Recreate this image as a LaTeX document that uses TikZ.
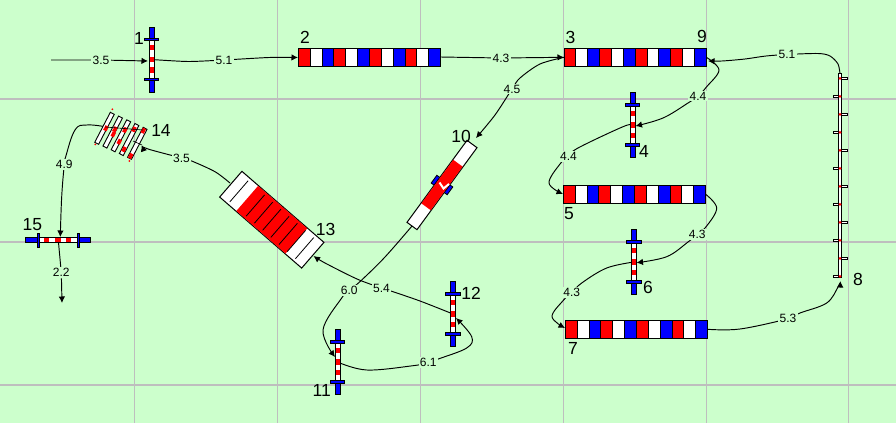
\documentclass[tikz,border=0pt]{standalone}
\usepackage{fontspec}
\setmainfont{Liberation Sans}
\usetikzlibrary{arrows.meta}
\pgfdeclarelayer{back}
\pgfsetlayers{back,main}
\definecolor{bgc}{HTML}{CCFFCC}
\definecolor{gridc}{HTML}{BEBEBE}
\tikzset{
  gridline/.style={gridc,line width=1.2pt},
  conn/.style={black,line width=.95pt,line join=round},
  tip/.style={conn,-{Latex[length=6.5pt,width=6.5pt]}},
  lab/.style={fill=bgc,inner sep=1.2pt,font=\fontsize{12}{12}\selectfont,text depth=0pt},
  num/.style={inner sep=0pt,font=\fontsize{17.5}{17.5}\selectfont},
  part/.style={draw=black,line width=1pt},
  hold/.style={inner sep=0pt,outer sep=0pt}
}
\newcommand{\stripebar}[3]{%
  \node[hold,minimum width=142.4pt,minimum height=18pt] (#1) at (#2,#3) {};
  \begin{scope}[shift={(#1.west)}]
    \foreach \i/\c in {0/red,1/white,2/blue,3/red,4/white,5/blue,6/red,7/white,8/blue,9/red,10/white,11/blue}
      \filldraw[part,fill=\c] ({\i*11.867},-9) rectangle ({(\i+1)*11.867},9);
  \end{scope}}
\newcommand{\signalpost}[4]{%
  \node[hold,minimum width=5pt,minimum height=65pt,rotate=#4] (#1) at (#2,#3) {};
  \begin{scope}[shift={(#2,#3)},rotate=#4]
    \fill[blue] (-2.5,-32.5) rectangle (2.5,32.5);
    \fill[white] (-2.5,-20) rectangle (2.5,20);
    \foreach \a/\b in {-14.5/-9.5,-3/2.5,7.5/13} \fill[red] (-2.5,\a) rectangle (2.5,\b);
    \draw[part] (-2.5,-32.5) rectangle (2.5,32.5);
    \foreach \s in {-20,20} \filldraw[part,fill=blue,line width=.8pt] (-7.3,\s-1.2) rectangle (7.3,\s+1.2);
  \end{scope}}
\begin{document}
\begin{tikzpicture}[x=1pt,y=-1pt]
\useasboundingbox (0,0) rectangle (896,423);
\begin{pgfonlayer}{back}
  \fill[bgc] (0,0) rectangle (896,423);
  \foreach \x in {134.5,277.5,420.5,563.5,706.5,848.5} \draw[gridline] (\x,0) -- (\x,423);
  \foreach \y in {99,242,385} \draw[gridline] (0,\y) -- (896,\y);
\end{pgfonlayer}

% elements
\signalpost{e1}{151.5}{59.5}{0}
\stripebar{e2}{369.5}{57}
\stripebar{e3}{635.2}{57.3}
\signalpost{e4}{632.5}{125}{0}
\stripebar{e5}{634.5}{194.3}
\signalpost{e6}{634}{262}{0}
\stripebar{e7}{636.5}{329.3}
\signalpost{e11}{337.5}{362}{0}
\signalpost{e12}{453}{314}{0}
\signalpost{e15}{58.3}{240.3}{90}
\coordinate (e9) at (e3.east);

% element 8
\node[hold,minimum width=3pt,minimum height=204pt] (e8) at (840,175) {};
\foreach \k in {0,2,4,6,8,10} \filldraw[part,fill=white,line width=.8pt] (840,78.3+18*\k-1.2) rectangle (847.5,78.3+18*\k+1.2);
\foreach \k in {1,3,5,7,9,11} \filldraw[part,fill=white,line width=.8pt] (833,78.3+18*\k-1.2) rectangle (840,78.3+18*\k+1.2);
\filldraw[part,fill=white,line width=1pt] (838.6,73) rectangle (841.4,277);
\foreach \k in {0,...,11} \fill[red] (840,78.3+18*\k) circle (1.5);

% element 10
\node[hold,minimum width=101.6pt,minimum height=12.4pt,rotate=53.8] (e10) at (442,185) {};
\begin{scope}[shift={(442,185)},rotate=53.8]
  \foreach \s in {-1,1} \filldraw[part,fill=blue,line width=.8pt] (-4.8,\s*8-1.9) rectangle (4.8,\s*8+1.9);
  \filldraw[part,fill=white] (-50.8,-6.2) rectangle (50.8,6.2);
  \fill[red] (-27,-5.8) rectangle (27,5.8);
\end{scope}
\draw[white,line width=2pt] (439.5,182.5) -- (443.5,188.5) -- (449,184);

% element 13
\node[hold,minimum width=108.5pt,minimum height=34pt,rotate=-40.9] (e13) at (271.8,219.7) {};
\begin{scope}[shift={(271.8,219.7)},rotate=-40.9]
  \filldraw[part,fill=white] (-54.25,-17) rectangle (54.25,17);
  \fill[red] (-32.5,-16.6) rectangle (32.5,16.6);
  \foreach \t in {-43.4,-21.7,-10.85,0,10.85,21.7,32.55,43.4} \draw[black,line width=.8pt] (\t,-14) -- (\t,14);
\end{scope}

% element 14
\node[hold,minimum width=60pt,minimum height=36pt] (e14) at (120.9,135.8) {};
\foreach \k in {0,...,4}
  \filldraw[part,fill=white,line width=.9pt,shift={(104.5+8.2*\k,128.3+3.75*\k)},rotate=62.5] (-16.9,-2.2) rectangle (16.9,2.2);
\foreach \p in {(106,128.3),(115,129.3),(113.3,134.3),(125,130),(119.3,141.7),(134,129.3),(124,149.3),(143.3,130.7),(130.7,156)}
  \fill[red,shift={\p},rotate=62.5] (-2.6,-1.8) rectangle (2.6,1.8);
\foreach \p in {(112.3,109.3),(95.3,144.3),(129.3,161)} \fill[red] \p circle (1);
\draw[black,line width=.6pt] (105,127) -- (143,130);
\draw[black,line width=.6pt] (142,145) -- (133,141);

% element numbers
\node[num] (n1) at (139,38) {1};
\node[num] (n2) at (305,37) {2};
\node[num] (n3) at (570.5,37) {3};
\node[num] (n4) at (644,151) {4};
\node[num] (n5) at (569,214) {5};
\node[num] (n6) at (648,287) {6};
\node[num] (n7) at (573,348) {7};
\node[num] (n8) at (858,279) {8};
\node[num] (n9) at (702,36) {9};
\node[num] (n10) at (461,136.7) {10};
\node[num] (n11) at (321.7,390) {11};
\node[num] (n12) at (471,293) {12};
\node[num] (n13) at (325.7,229) {13};
\node[num] (n14) at (161,130) {14};
\node[num] (n15) at (32.3,225) {15};

% connector labels
\node[lab] (a1) at (101,60) {3.5};
\node[lab] (a2) at (224,60) {5.1};
\node[lab] (a3) at (501,58) {4.3};
\node[lab] (a4) at (512,89) {4.5};
\node[lab] (a5) at (787,54.5) {5.1};
\node[lab] (a6) at (698,96) {4.4};
\node[lab] (a7) at (568.5,156.5) {4.4};
\node[lab] (a8) at (697.3,234.3) {4.3};
\node[lab] (a9) at (571.7,292.7) {4.3};
\node[lab] (a10) at (788,318.7) {5.3};
\node[lab] (a11) at (349.3,290.7) {6.0};
\node[lab] (a12) at (381.5,288) {5.4};
\node[lab] (a13) at (428.3,362.7) {6.1};
\node[lab] (a14) at (181.5,158) {3.5};
\node[lab] (a15) at (64.3,164.7) {4.9};
\node[lab] (a16) at (61.3,272.7) {2.2};

% connector ends
\coordinate (s1) at (51,60);
\coordinate (f1) at (148,61);
\coordinate (f2) at (298,57.5);
\coordinate (f4) at (476,138);
\coordinate (f5) at (708,61);
\coordinate (f6) at (635.5,126);
\coordinate (f7) at (563,194);
\coordinate (f8) at (636.5,262.7);
\coordinate (f9) at (565,328);
\coordinate (f10) at (840.3,281);
\coordinate (f11) at (335,357);
\coordinate (f12) at (313.5,256);
\coordinate (f13) at (456,318);
\coordinate (f14) at (141.7,145);
\coordinate (f15) at (60.3,237);
\coordinate (f16) at (62,303);
\coordinate (t13) at (230,183);
\coordinate (t14) at (105,126.7);
\coordinate (t10) at (412,226);
\coordinate (t8) at (840,74);

\begin{pgfonlayer}{back}
  \draw[tip] (s1) -- (a1) -- (f1);
  \draw[tip] plot[smooth,tension=.4] coordinates {(e1) (188,61.5) (a2) (269,57.5) (f2)};
  \draw[tip] (e2.east) -- (a3) -- (e3.west);
  \draw[tip] plot[smooth,tension=.5] coordinates {(e3.west) (540,64) (520,78) (a4) (495,115) (f4)};
  \draw[tip] plot[smooth,tension=.5] coordinates {(t8) (838,64) (830,56) (818,53.5) (a5) (766,56) (745,59) (722,61) (f5)};
  \draw[tip] plot[smooth,tension=.6] coordinates {(e9) (719,70) (706.7,86.7) (a6) (688,103) (663,118) (f6)};
  \draw[tip] plot[smooth,tension=.6] coordinates {(e4) (623,126.7) (578,148) (a7) (560,164) (549,183) (f7)};
  \draw[tip] plot[smooth,tension=.6] coordinates {(e5.east) (716.7,208) (706.7,226) (a8) (688,242) (666.7,256.7) (f8)};
  \draw[tip] plot[smooth,tension=.6] coordinates {(e6) (606.7,268) (581.7,283) (a9) (563,300.7) (552,316.7) (f9)};
  \draw[tip] plot[smooth,tension=.6] coordinates {(e7.east) (740,329) (a10) (800,313) (826.7,303) (838,287) (f10)};
  \draw[tip] plot[smooth,tension=.6] coordinates {(t10) (385,257) (361.7,280) (a11) (341.7,298) (323,330) (f11)};
  \draw[tip] plot[smooth,tension=.5] coordinates {(e12) (420,301) (390,290.7) (a12) (357,279) (325,263) (f12)};
  \draw[tip] plot[smooth,tension=.6] coordinates {(e11) (366.7,370) (413,365.7) (a13) (438.3,359) (466.7,348) (471.7,336.7) (f13)};
  \draw[tip] plot[smooth,tension=.5] coordinates {(t13) (215,171.7) (191.7,161) (a14) (148,149) (f14)};
  \draw[tip] plot[smooth,tension=.7] coordinates {(t14) (86.7,125) (75,130) (65.7,156.7) (a15) (61.7,196.7) (f15)};
  \draw[tip] (e15) -- (a16) -- (f16);
\end{pgfonlayer}
\end{tikzpicture}
\end{document}
